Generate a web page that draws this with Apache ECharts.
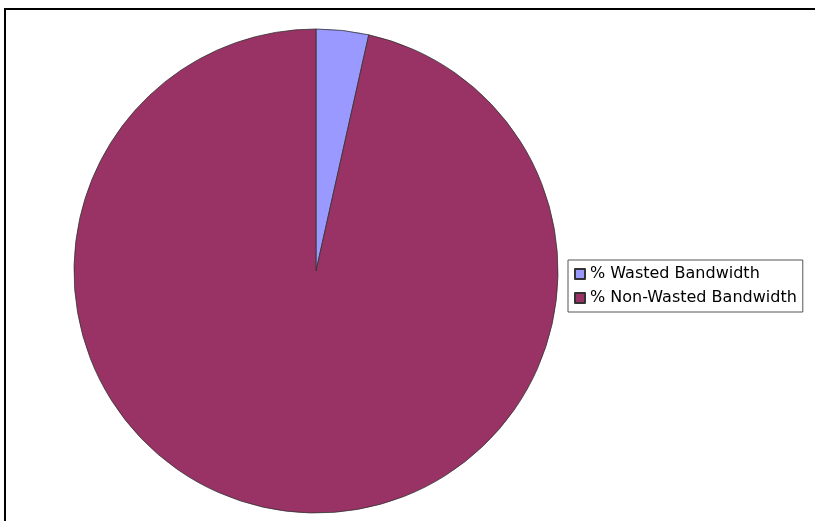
<!DOCTYPE html>
<html>
<head>
<meta charset="utf-8">
<script src="https://cdn.jsdelivr.net/npm/echarts@6/dist/echarts.min.js"></script>
<style>
  html, body { margin: 0; padding: 0; background: #fff; }
  #container { width: 815px; height: 521px; }
</style>
</head>
<body>
<div id="container"></div>
<script>
var categories = ["% Wasted Bandwidth", "% Non-Wasted Bandwidth"];
var shares = [3.5, 96.5];
var colors = ["#9999ff", "#993366"];

var dom = document.getElementById("container");
var myChart = echarts.init(dom);

var pieData = categories.map(function(name, i) {
  return { name: name, value: shares[i], itemStyle: { color: colors[i] } };
});

var option = {
  animation: false,
  backgroundColor: "#fff",
  graphic: [
    {
      type: "rect",
      shape: { x: 5, y: 9, width: 840, height: 540 },
      style: { fill: "none", stroke: "#000", lineWidth: 2 }
    }
  ],
  legend: {
    orient: "vertical",
    left: 568,
    top: 260,
    data: categories,
    icon: "rect",
    itemWidth: 10,
    itemHeight: 10,
    itemGap: 8,
    padding: [6, 6, 6, 6],
    borderColor: "#555",
    borderWidth: 1,
    textStyle: {
      fontFamily: "DejaVu Sans",
      fontSize: 16,
      color: "#000"
    }
  },
  series: [
    {
      type: "pie",
      center: [316, 271],
      radius: 242,
      startAngle: 90,
      clockwise: true,
      label: { show: false },
      labelLine: { show: false },
      itemStyle: { borderColor: "#333", borderWidth: 0.8 },
      emphasis: { disabled: true },
      data: pieData
    }
  ]
};

myChart.setOption(option, true);
</script>
</body>
</html>
